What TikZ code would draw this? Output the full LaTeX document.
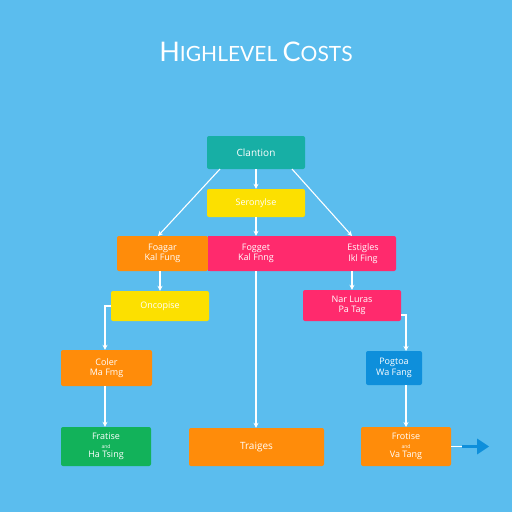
\documentclass[tikz,border=0pt]{standalone}
\usepackage{fontspec}
\setmainfont{Open Sans}
\newfontfamily\titlefont{Lato}
\usetikzlibrary{arrows.meta,calc}
\definecolor{bg}{HTML}{5BBDEE}
\definecolor{cteal}{HTML}{17AFA5}
\definecolor{cyel}{HTML}{FCE000}
\definecolor{corng}{HTML}{FF8C0A}
\definecolor{cpink}{HTML}{FF2A6D}
\definecolor{cblue}{HTML}{0E8FDB}
\definecolor{cgreen}{HTML}{12B25A}
\begin{document}
\begin{tikzpicture}[x=1pt,y=-1pt,
  box/.style={rectangle, rounded corners=2pt, inner sep=0pt, text=white, align=center,
    font=\fontsize{9}{10.5}\selectfont},
  txt/.style={inner sep=0pt, text=white, align=center, font=\fontsize{9}{10.5}\selectfont},
  arr/.style={draw=white, line width=1.1pt, -{Stealth[length=5pt,width=5pt]}},
  ln/.style={draw=white, line width=1.1pt}]
\useasboundingbox (0,0) rectangle (512,512);
\fill[bg] (0,0) rectangle (512,512);
\node[text=white, font=\titlefont] (title) at (256,52) {{\fontsize{27}{30}\selectfont H}{\fontsize{21}{24}\selectfont IGHLEVEL }{\fontsize{27}{30}\selectfont C}{\fontsize{21}{24}\selectfont OSTS}};
\node[box, fill=cteal, minimum width=98pt, minimum height=33pt, font=\fontsize{10}{12}\selectfont] (clan) at (256,152.5) {Clantion};
\node[box, fill=cyel, minimum width=98pt, minimum height=28pt] (sero) at (256,203) {Seronylse};
\node[box, fill=corng, minimum width=91pt, minimum height=35pt] (foag) at (162.5,253.5) {Foagar\\Kal Fung};
\node[box, fill=cpink, minimum width=188pt, minimum height=35pt] (pinkrow) at (302,253.5) {};
\fill[cpink] (208,236) rectangle (212,271);
\node[txt] (fogg) at (256,253.5) {Fogget\\Kal Fnng};
\node[txt] (esti) at (363,253.5) {Estigles\\Ikl Fing};
\node[box, fill=cyel, minimum width=98pt, minimum height=30pt] (onco) at (160,306) {Oncopise};
\node[box, fill=cpink, minimum width=98pt, minimum height=31pt] (nar) at (352,305.5) {Nar Luras\\Pa Tag};
\node[box, fill=corng, minimum width=91pt, minimum height=36pt] (coler) at (106.5,368) {Coler\\Ma Fmg};
\node[box, fill=cblue, minimum width=56pt, minimum height=34pt] (pog) at (394,368) {Pogtoa\\Wa Fang};
\node[box, fill=cgreen, minimum width=90pt, minimum height=39pt, font=\fontsize{9}{9}\selectfont] (frat) at (106,446.5) {Fratise\\{\tiny and}\\Ha Tsing};
\node[box, fill=corng, minimum width=135pt, minimum height=38pt, font=\fontsize{10}{12}\selectfont] (trai) at (256.5,447) {Traiges};
\node[box, fill=corng, minimum width=90pt, minimum height=39pt, font=\fontsize{9}{9}\selectfont] (frot) at (406,446.5) {Frotise\\{\tiny and}\\Va Tang};
% connector anchors
\coordinate (cl1) at (220,169);
\coordinate (cl2) at (292,169);
\coordinate (fg) at (158,236);
\coordinate (es) at (352,236);
\coordinate (es2) at (352,271);
\coordinate (onl) at (111,306);
\coordinate (onl2) at (105,306);
\coordinate (nr) at (401,315);
\coordinate (nr2) at (406,315);
\coordinate (pgt) at (406,351);
\coordinate (pgb) at (406,385);
\coordinate (fot) at (406,427);
% arrows
\draw[arr] (clan.south) -- (sero.north);
\draw[arr] (cl1) -- (fg);
\draw[arr] (cl2) -- (es);
\draw[arr] (sero.south) -- (fogg.north |- pinkrow.north);
\draw[arr] (foag.south -| onco.north) -- (onco.north);
\draw[arr] (fogg.south |- pinkrow.south) -- (trai.north -| fogg.south);
\draw[arr] (es2) -- (nar.north);
\draw[arr] (onl) -- (onl2) -- (onl2 |- coler.north);
\draw[arr] (nr) -- (nr2) -- (pgt);
\draw[arr] (coler.south -| onl2) -- (onl2 |- frat.north);
\draw[arr] (pgb) -- (fot);
\draw[ln] (frot.east) -- ++(11,0) coordinate (be);
\draw[draw=cblue, line width=3pt, -{Triangle[length=12pt,width=15pt]}] (be) -- ++(27,0) coordinate (bend);
\end{tikzpicture}
\end{document}
